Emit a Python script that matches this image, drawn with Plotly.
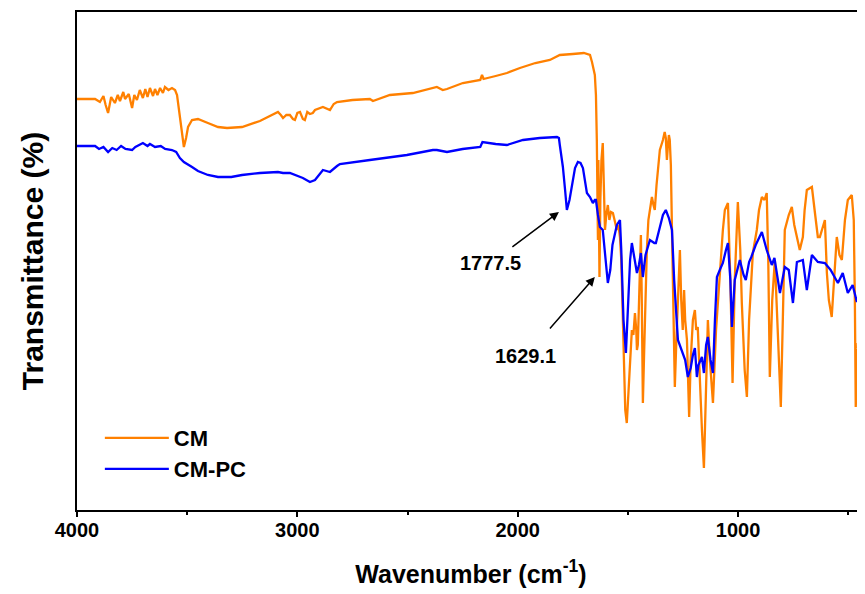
import plotly.graph_objects as go

# ---- data (wavenumber in cm^-1, transmittance in arbitrary units) ----
cm_wn = [4000, 3918, 3896, 3880, 3870, 3859, 3845, 3828, 3815, 3805, 3790, 3782, 3765, 3750, 3740, 3728,
         3715, 3701, 3690, 3680, 3669, 3655, 3646, 3635, 3623, 3610, 3601, 3585, 3569, 3555, 3546, 3533,
         3522, 3515, 3505, 3496, 3478, 3451, 3406, 3360, 3319, 3251, 3170, 3100, 3088, 3075, 3065, 3050,
         3034, 3020, 3011, 3000, 2988, 2975, 2966, 2955, 2943, 2930, 2920, 2884, 2870, 2852, 2835, 2820,
         2750, 2671, 2657, 2580, 2476, 2385, 2367, 2340, 2321, 2249, 2170, 2162, 2155, 2100, 2049, 1990,
         1920, 1854, 1809, 1750, 1700, 1672, 1663, 1650, 1645, 1641, 1638, 1636, 1634, 1632, 1629, 1625,
         1620, 1614, 1609, 1604, 1598, 1591, 1584, 1577, 1568, 1560, 1550, 1543, 1536, 1530, 1523, 1518,
         1512, 1505, 1498, 1491, 1482, 1475, 1468, 1462, 1459, 1455, 1450, 1446, 1441, 1437, 1432, 1426,
         1420, 1414, 1407, 1400, 1391, 1384, 1378, 1370, 1355, 1341, 1333, 1328, 1323, 1318, 1314, 1310,
         1305, 1300, 1293, 1287, 1280, 1273, 1264, 1258, 1251, 1245, 1240, 1232, 1228, 1222, 1215, 1205,
         1196, 1190, 1183, 1174, 1164, 1155, 1148, 1137, 1128, 1114, 1100, 1083, 1069, 1060, 1046, 1035,
         1025, 1015, 1001, 990, 983, 970, 960, 950, 933, 915, 905, 892, 880, 870, 863, 856,
         845, 833, 820, 806, 797, 788, 770, 756, 745, 733, 720, 706, 698, 688, 675, 665,
         650, 638, 629, 615, 606, 597, 588, 575, 565, 552, 540, 529, 515, 502, 484, 475,
         470, 466, 462, 457, 450, 440, 425]
cm_t = [411, 411, 408, 414, 405, 397, 413, 407, 415, 409, 418, 411, 416, 402, 415, 410,
        420, 412, 421, 413, 422, 414, 421, 415, 422, 417, 423, 420, 422, 420, 415, 395,
        375, 363, 372, 383, 390, 391, 387, 383, 382, 383, 389, 397, 398, 395, 392, 395,
        395, 391, 390, 397, 398, 391, 390, 398, 396, 397, 400, 403, 402, 400, 406, 408,
        410, 411, 409, 415, 417, 422, 423, 420, 421, 427, 430, 435, 431, 434, 437, 442,
        447, 450, 455, 456, 457, 455, 448, 435, 415, 370, 310, 270, 350, 310, 233, 310,
        350, 367, 320, 280, 295, 305, 290, 298, 297, 290, 280, 285, 273, 250, 190, 130,
        100, 87, 115, 150, 180, 175, 197, 180, 160, 165, 210, 250, 275, 210, 107, 160,
        210, 260, 290, 300, 313, 305, 300, 325, 360, 370, 378, 372, 350, 365, 375, 370,
        345, 280, 180, 123, 170, 220, 260, 210, 180, 220, 190, 170, 130, 93, 150, 190,
        200, 180, 183, 130, 80, 42, 100, 190, 150, 107, 180, 240, 280, 300, 307, 230,
        127, 230, 308, 260, 207, 140, 113, 190, 257, 280, 300, 313, 310, 317, 250, 133,
        210, 250, 180, 103, 190, 280, 295, 303, 285, 273, 260, 273, 300, 320, 322, 323,
        295, 273, 273, 285, 290, 237, 210, 193, 230, 273, 255, 250, 290, 310, 315, 290,
        210, 103, 130, 167, 160, 158, 158]

cmpc_wn = [4000, 3918, 3900, 3880, 3859, 3840, 3820, 3800, 3780, 3750, 3735, 3701, 3680, 3669, 3646, 3620,
           3600, 3569, 3550, 3533, 3515, 3496, 3478, 3451, 3406, 3360, 3300, 3251, 3170, 3088, 3065, 3034,
           3011, 2975, 2943, 2920, 2884, 2852, 2820, 2807, 2671, 2503, 2385, 2367, 2321, 2250, 2170, 2160,
           2100, 2049, 1976, 1900, 1822, 1813, 1809, 1795, 1785, 1777, 1765, 1754, 1740, 1727, 1715, 1704,
           1695, 1686, 1672, 1659, 1650, 1645, 1636, 1627, 1614, 1600, 1591, 1580, 1570, 1550, 1536, 1530,
           1520, 1509, 1500, 1490, 1482, 1470, 1459, 1450, 1441, 1432, 1420, 1400, 1380, 1373, 1355, 1341,
           1328, 1314, 1300, 1290, 1273, 1251, 1240, 1228, 1215, 1205, 1196, 1187, 1180, 1164, 1155, 1145,
           1137, 1125, 1114, 1105, 1096, 1083, 1069, 1055, 1046, 1035, 1028, 1015, 992, 975, 965, 950,
           940, 920, 892, 870, 847, 835, 810, 788, 770, 751, 733, 706, 688, 665, 638, 606,
           580, 547, 525, 502, 480, 461, 440, 425]
cmpc_t = [364, 364, 361, 363, 358, 362, 360, 364, 361, 360, 363, 367, 364, 366, 363, 364,
          361, 360, 358, 352, 348, 345, 343, 339, 335, 333, 333, 335, 337, 338, 337, 337,
          335, 332, 328, 330, 340, 338, 344, 346, 350, 355, 360, 360, 358, 361, 363, 368,
          366, 365, 370, 372, 373, 372, 365, 343, 320, 300, 310, 323, 342, 348, 347, 342,
          330, 317, 313, 307, 310, 310, 295, 283, 280, 250, 227, 240, 265, 285, 290, 260,
          190, 157, 210, 250, 267, 250, 237, 245, 257, 233, 255, 270, 267, 267, 282, 295,
          300, 292, 280, 230, 170, 157, 150, 133, 142, 155, 162, 133, 145, 153, 137, 165,
          173, 150, 137, 190, 233, 240, 247, 260, 267, 230, 183, 230, 250, 235, 230, 248,
          253, 265, 278, 260, 245, 252, 217, 243, 240, 207, 248, 250, 220, 255, 248, 247,
          240, 227, 237, 217, 225, 208, 225, 237]

x_ticks = [4000, 3000, 2000, 1000]
x_minor = [3500, 2500, 1500, 500]
series_names = ["CM", "CM-PC"]
peak_labels = ["1777.5", "1629.1"]
peak_wn = [1813, 1650]
peak_t = [298, 233]

FONT = "Arial, Liberation Sans, sans-serif"

fig = go.Figure()
fig.add_trace(go.Scatter(x=cm_wn, y=cm_t, mode="lines", name=series_names[0],
                         line=dict(color="#FF8000", width=2.3), legend="legend"))
fig.add_trace(go.Scatter(x=cmpc_wn, y=cmpc_t, mode="lines", name=series_names[1],
                         line=dict(color="#0000FF", width=2.3), legend="legend2"))

# labelled arrows (text at the tail, arrow pointing to the band)
fig.add_annotation(x=peak_wn[0], y=peak_t[0], ax=-68, ay=51, axref="pixel", ayref="pixel",
                   text="<b>%s</b>" % peak_labels[0], showarrow=True, arrowhead=2, arrowsize=1.2,
                   arrowwidth=1.5, arrowcolor="black", startstandoff=6,
                   font=dict(family=FONT, size=20, color="black"))
fig.add_annotation(x=peak_wn[1], y=peak_t[1], ax=-69, ay=79, axref="pixel", ayref="pixel",
                   text="<b>%s</b>" % peak_labels[1], showarrow=True, arrowhead=2, arrowsize=1.2,
                   arrowwidth=1.5, arrowcolor="black", startstandoff=20,
                   font=dict(family=FONT, size=20, color="black"))

leg_common = dict(xanchor="left", yanchor="top", bgcolor="rgba(0,0,0,0)", borderwidth=0,
                  font=dict(family=FONT, size=22, color="black", weight="bold"), itemwidth=64)

fig.update_layout(
    width=857, height=586,
    margin=dict(l=69, r=0, t=4, b=84),
    paper_bgcolor="white", plot_bgcolor="white",
    font=dict(family=FONT, color="black"),
    showlegend=True,
    legend=dict(x=0.029, y=0.1867, **leg_common),
    legend2=dict(x=0.029, y=0.1245, **leg_common),
    xaxis=dict(range=[4000, 424], tickvals=x_ticks, ticktext=["<b>%d</b>" % v for v in x_ticks],
               ticks="outside", ticklen=5, tickwidth=2, tickcolor="black", automargin=False,
               ticklabelstandoff=-4,
               minor=dict(tickvals=x_minor, ticks="outside", ticklen=3,
                          tickwidth=2, tickcolor="black"),
               showline=True, linewidth=2, linecolor="black", mirror=True,
               showgrid=False, zeroline=False,
               tickfont=dict(family=FONT, size=20, color="black"),
               title=dict(text="<b>Wavenumber (cm<sup>-1</sup>)</b>", standoff=25,
                          font=dict(family=FONT, size=25, color="black"))),
    yaxis=dict(range=[0, 498], showticklabels=False, ticks="", automargin=False,
               showline=True, linewidth=2, linecolor="black", mirror=False,
               showgrid=False, zeroline=False,
               title=dict(text="<b>Transmittance (%)</b>", standoff=23,
                          font=dict(family=FONT, size=30, color="black"))),
)

fig.write_html("out.html")
